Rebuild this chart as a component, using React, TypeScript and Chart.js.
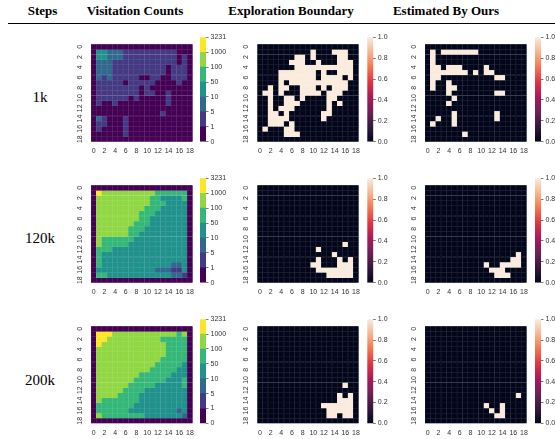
import React, { useEffect, useRef } from 'react';
import { Chart, registerables } from 'chart.js';
Chart.register(...registerables);

// ---------- text ----------
const HEADERS = ['Steps', 'Visitation Counts', 'Exploration Boundary', 'Estimated By Ours'];
const HEADER_X = [42.5, 135, 291, 446];
const STEP_LABELS = ['1k', '120k', '200k'];
const STEP_LABEL_Y = [97, 238, 380];

// ---------- ticks ----------
const CELL_LABELS = Array.from({ length: 19 }, (_, i) => String(i));
const Y_TICK_ROWS = [0, 2, 4, 6, 8, 10, 12, 14, 16, 18];
const COUNT_TICKS = ['0', '1', '5', '10', '50', '100', '1000', '3231'];
const BOUNDARY_TICKS = ['0.0', '0.2', '0.4', '0.6', '0.8', '1.0'];
const BOUNDARY_TICK_VALUES = [0, 0.2, 0.4, 0.6, 0.8, 1.0];

// ---------- data ----------
// Visitation counts, bin index per cell: 0:[0,1) 1:[1,5) 2:[5,10) 3:[10,50) 4:[50,100) 5:[100,1000) 6:[1000,3231]
const VISIT_1K = [
  '0000000000000000000',
  '0332221111111111000',
  '0332221111111111010',
  '0222111111111111010',
  '0222111111111101110',
  '0222111111111101110',
  '0212111110011001110',
  '0111110111110000100',
  '0111111110100000000',
  '0111111110110010000',
  '0111111010000010000',
  '0100100000000010000',
  '0000000000000000000',
  '0000000000000100000',
  '0210001000000000000',
  '0110001000000000000',
  '0100001000000000000',
  '0000001000000000000',
  '0000000000000000000',
];
const VISIT_120K = [
  '0000000000000000000',
  '0655555555554444440',
  '0555555555544333340',
  '0555555555544433330',
  '0555555555444333330',
  '0555555554443333330',
  '0555555554433333330',
  '0555555544433333330',
  '0555555444333333330',
  '0555555443333333330',
  '0544444433333333330',
  '0544444333333333330',
  '0444333333333333330',
  '0433333333333333330',
  '0433333333333333330',
  '0433333333333332230',
  '0333333333332221130',
  '0443333333333332210',
  '0000000000000000000',
];
const VISIT_200K = [
  '0000000000000000000',
  '0666555555555555450',
  '0665555555555444440',
  '0655555555555544440',
  '0555555555555544440',
  '0555555555555544440',
  '0555555555555444440',
  '0555555555554444430',
  '0555555555544444330',
  '0555555554444443330',
  '0555555544444433340',
  '0555555444443333340',
  '0555554444333333330',
  '0555544443333333330',
  '0544444443333333330',
  '0444444433333333330',
  '0444444333333333230',
  '0544444444333333320',
  '0000000000000000000',
];
// Exploration boundary (1 = boundary cell)
const BOUNDARY_1K = [
  '0000000000000000000',
  '0000000000100011100',
  '0000000110100001100',
  '0000001110010001110',
  '0000000111111111110',
  '0000111111101001110',
  '0000111111101111010',
  '0000101111111111100',
  '0010110011101011100',
  '0110100011110111000',
  '0010011010000110000',
  '0010011100000101000',
  '0010111000000100000',
  '0011010000001100000',
  '0011110000001000000',
  '0011101000000000000',
  '0100011000000000000',
  '0000011100000000000',
  '0000000000000000000',
];
const BOUNDARY_120K = [
  '0000000000000000000',
  '0000000000000000000',
  '0000000000000000000',
  '0000000000000000000',
  '0000000000000000000',
  '0000000000000000000',
  '0000000000000000000',
  '0000000000000000000',
  '0000000000000000000',
  '0000000000000000000',
  '0000000000000000000',
  '0000000000000000100',
  '0000000000010000000',
  '0000000000000010000',
  '0000000000010001010',
  '0000000000110001110',
  '0000000000011111110',
  '0000000000000111110',
  '0000000000000000000',
];
const BOUNDARY_200K = [
  '0000000000000000000',
  '0000000000000000000',
  '0000000000000000000',
  '0000000000000000000',
  '0000000000000000000',
  '0000000000000000000',
  '0000000000000000000',
  '0000000000000000000',
  '0000000000000000000',
  '0000000000000000000',
  '0000000000000000000',
  '0000000000000000100',
  '0000000000000000000',
  '0000000000000001010',
  '0000000000000001110',
  '0000000000001111110',
  '0000000000000111110',
  '0000000000000110110',
  '0000000000000000000',
];
// Estimated by ours
const ESTIMATED_1K = [
  '0000000000000000000',
  '0101111111000000000',
  '0100000000000000000',
  '0100000000000000000',
  '0110111000010000000',
  '0111111101011000000',
  '0110000000000110000',
  '0100100000000000000',
  '0100110000000000000',
  '0000100000000110000',
  '0000010000000000000',
  '0000100000000000000',
  '0000000000000000000',
  '0000010000000100000',
  '0010010000000100000',
  '0100010000000000000',
  '0000000000000000000',
  '0000000100000000000',
  '0000000000000000000',
];
const ESTIMATED_120K = [
  '0000000000000000000',
  '0000000000000000000',
  '0000000000000000000',
  '0000000000000000000',
  '0000000000000000000',
  '0000000000000000000',
  '0000000000000000000',
  '0000000000000000000',
  '0000000000000000000',
  '0000000000000000000',
  '0000000000000000000',
  '0000000000000000000',
  '0000000000000000000',
  '0000000000000000010',
  '0000000000000000110',
  '0000000000010011110',
  '0000000000001110000',
  '0000000000000111000',
  '0000000000000000000',
];
const ESTIMATED_200K = [
  '0000000000000000000',
  '0000000000000000000',
  '0000000000000000000',
  '0000000000000000000',
  '0000000000000000000',
  '0000000000000000000',
  '0000000000000000000',
  '0000000000000000000',
  '0000000000000000000',
  '0000000000000000000',
  '0000000000000000000',
  '0000000000000000000',
  '0000000000000000000',
  '0000000000000000010',
  '0000000000000000000',
  '0000000000010010000',
  '0000000000001010000',
  '0000000000000110000',
  '0000000000000000000',
];

// ---------- colours ----------
const VIRIDIS7 = ['#440154', '#443983', '#31688e', '#21918c', '#35b779', '#90d743', '#fde725'];
const ROCKET01 = ['#03051a', '#faebdd'];
const ROCKET_STOPS: [number, string][] = [
  [0, '#03051a'], [1 / 7, '#35193e'], [2 / 7, '#701f57'], [3 / 7, '#ad1759'],
  [4 / 7, '#e13342'], [5 / 7, '#f37651'], [6 / 7, '#f6b48f'], [1, '#faebdd'],
];

// ---------- layout ----------
const GX = [91, 257.3, 425];
const GY = [37.3, 178.3, 319];
const GRID_W = 103;
const GRID_H = 104.4;
const CB_DX = [109, 110, 110];
const CB_W = 6;
const TICK_FONT = { family: "'Liberation Sans', Arial, sans-serif", size: 7 };
const TICK_COLOR = '#333333';

function lighten(hex: string, t = 0.15): string {
  const n = parseInt(hex.slice(1), 16);
  const r = (n >> 16) & 255, g = (n >> 8) & 255, b = n & 255;
  const f = (c: number) => Math.round(c + (255 - c) * t);
  return `rgb(${f(r)},${f(g)},${f(b)})`;
}

function Heatmap({ grid, palette, gx, gy }: { grid: string[]; palette: string[]; gx: number; gy: number }) {
  const ref = useRef<HTMLCanvasElement>(null);
  const L = Math.floor(gx) - 24;
  const T = Math.floor(gy) - 4;
  const W = 132;
  const H = 130;
  useEffect(() => {
    const yAxisW = gx - L;
    const padTop = gy - T;
    const padRight = W - yAxisW - GRID_W;
    const xAxisH = H - padTop - GRID_H;
    const datasets = grid.map((row) => {
      const cells = row.split('').map((c) => Number(c));
      return {
        data: cells.map(() => 1),
        backgroundColor: cells.map((v) => palette[v]),
        borderColor: cells.map((v) => lighten(palette[v])),
        borderWidth: 0.5,
        borderSkipped: false,
        barPercentage: 1,
        categoryPercentage: 1,
      };
    });
    const chart = new Chart(ref.current as HTMLCanvasElement, {
      type: 'bar',
      data: { labels: CELL_LABELS, datasets: datasets as any },
      options: {
        animation: false,
        responsive: false,
        events: [],
        layout: { padding: { top: padTop, right: padRight, left: 0, bottom: 0 } },
        plugins: { legend: { display: false }, tooltip: { enabled: false } },
        scales: {
          x: {
            type: 'category',
            stacked: true,
            offset: true,
            grid: { display: false, drawTicks: false },
            border: { display: false },
            ticks: {
              autoSkip: false,
              maxRotation: 0,
              minRotation: 0,
              padding: 5,
              font: TICK_FONT,
              color: TICK_COLOR,
              callback: (_v: any, i: number) => (i % 2 === 0 ? CELL_LABELS[i] : ''),
            },
            afterFit: (s: any) => { s.height = xAxisH; },
          },
          y: {
            type: 'linear',
            stacked: true,
            reverse: true,
            min: 0,
            max: 19,
            grid: { display: false, drawTicks: false },
            border: { display: false },
            afterBuildTicks: (s: any) => { s.ticks = Y_TICK_ROWS.map((r) => ({ value: r + 0.5 })); },
            ticks: {
              minRotation: 90,
              maxRotation: 90,
              crossAlign: 'center',
              padding: 7,
              font: TICK_FONT,
              color: TICK_COLOR,
              callback: (v: any) => String(Math.round(Number(v) - 0.5)),
            },
            afterFit: (s: any) => { s.width = yAxisW; },
          },
        },
      } as any,
    });
    return () => chart.destroy();
  }, []);
  return (
    <canvas ref={ref} width={W} height={H}
      style={{ position: 'absolute', left: L, top: T, width: W, height: H }} />
  );
}

function Colorbar({ kind, cbx, gy }: { kind: 'count' | 'boundary'; cbx: number; gy: number }) {
  const ref = useRef<HTMLCanvasElement>(null);
  const L = Math.floor(cbx);
  const T = Math.floor(gy) - 6;
  const W = 50;
  const H = 118;
  useEffect(() => {
    const padLeft = cbx - L;
    const padTop = gy - T;
    const padBottom = H - padTop - GRID_H;
    const yAxisW = W - padLeft - CB_W;
    let datasets: any[];
    let yMax: number;
    let tickValues: number[];
    let tickLabel: (v: number) => string;
    if (kind === 'count') {
      datasets = VIRIDIS7.map((c) => ({
        data: [1], backgroundColor: c, borderWidth: 0, barPercentage: 1, categoryPercentage: 1,
      }));
      yMax = 7;
      tickValues = COUNT_TICKS.map((_, i) => i);
      tickLabel = (v) => COUNT_TICKS[Math.round(v)];
    } else {
      datasets = [{
        data: [1],
        borderWidth: 0,
        barPercentage: 1,
        categoryPercentage: 1,
        backgroundColor: (ctx: any) => {
          const area = ctx.chart.chartArea;
          if (!area) return ROCKET01[0];
          const g = ctx.chart.ctx.createLinearGradient(0, area.bottom, 0, area.top);
          ROCKET_STOPS.forEach(([p, c]) => g.addColorStop(p, c));
          return g;
        },
      }];
      yMax = 1;
      tickValues = BOUNDARY_TICK_VALUES;
      tickLabel = (v) => BOUNDARY_TICKS[Math.round(v * 5)];
    }
    const chart = new Chart(ref.current as HTMLCanvasElement, {
      type: 'bar',
      data: { labels: [''], datasets },
      options: {
        animation: false,
        responsive: false,
        events: [],
        layout: { padding: { top: padTop, bottom: padBottom, left: padLeft, right: 0 } },
        plugins: { legend: { display: false }, tooltip: { enabled: false } },
        scales: {
          x: { display: false, stacked: true, offset: true },
          y: {
            position: 'right',
            stacked: true,
            min: 0,
            max: yMax,
            border: { display: false },
            grid: { display: true, drawOnChartArea: false, drawTicks: true, tickLength: 2.5, color: '#444', lineWidth: 0.7 },
            afterBuildTicks: (s: any) => { s.ticks = tickValues.map((v) => ({ value: v })); },
            ticks: {
              padding: 2,
              font: TICK_FONT,
              color: TICK_COLOR,
              callback: (v: any) => tickLabel(Number(v)),
            },
            afterFit: (s: any) => { s.width = yAxisW; },
          },
        },
      } as any,
    });
    return () => chart.destroy();
  }, []);
  return (
    <canvas ref={ref} width={W} height={H}
      style={{ position: 'absolute', left: L, top: T, width: W, height: H }} />
  );
}

const GRIDS = [
  [VISIT_1K, BOUNDARY_1K, ESTIMATED_1K],
  [VISIT_120K, BOUNDARY_120K, ESTIMATED_120K],
  [VISIT_200K, BOUNDARY_200K, ESTIMATED_200K],
];

export default function App() {
  return (
    <div style={{ position: 'absolute', left: 0, top: 0, width: 555, height: 439, overflow: 'hidden', background: '#fff' }}>
      {HEADERS.map((h, i) => (
        <div key={h} style={{
          position: 'absolute', left: HEADER_X[i] - 100, width: 200, top: 2, textAlign: 'center',
          fontFamily: "'Liberation Serif', 'Times New Roman', serif", fontWeight: 'bold', fontSize: 13, lineHeight: '17px', color: '#000',
        }}>{h}</div>
      ))}
      <div style={{ position: 'absolute', left: 8, top: 23, width: 547, height: 1, background: '#000' }} />
      {STEP_LABELS.map((s, i) => (
        <div key={s} style={{
          position: 'absolute', left: 40 - 40, width: 80, top: STEP_LABEL_Y[i] - 10, textAlign: 'center',
          fontFamily: "'Liberation Serif', 'Times New Roman', serif", fontSize: 15, lineHeight: '20px', color: '#000',
        }}>{s}</div>
      ))}
      {GRIDS.map((row, r) => row.map((grid, c) => (
        <React.Fragment key={`${r}-${c}`}>
          <Heatmap grid={grid} palette={c === 0 ? VIRIDIS7 : ROCKET01} gx={GX[c]} gy={GY[r]} />
          <Colorbar kind={c === 0 ? 'count' : 'boundary'} cbx={GX[c] + CB_DX[c]} gy={GY[r]} />
        </React.Fragment>
      )))}
    </div>
  );
}
